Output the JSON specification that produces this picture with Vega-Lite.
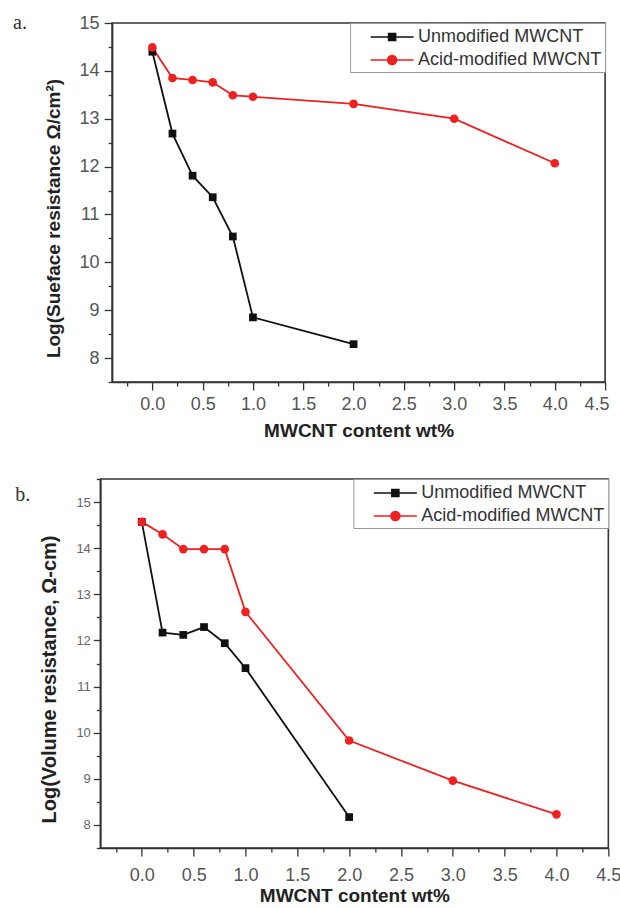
{
  "$schema": "https://vega.github.io/schema/vega-lite/v6.json",
  "background": "white",
  "padding": {"top": 12, "left": 12, "right": 1, "bottom": 0},
  "spacing": 36,
  "center": true,
  "config": {
    "view": {"stroke": "#333", "strokeWidth": 1.6},
    "font": "Liberation Sans",
    "axis": {
      "domainColor": "#333", "domainWidth": 1.6, "tickColor": "#333", "tickWidth": 1.3, "labelFlush": false,
      "grid": false, "labelColor": "#555", "labelFont": "Liberation Sans",
      "titleFont": "Liberation Sans", "titleFontWeight": "bold", "titleColor": "#222"
    },
    "legend": {
      "title": null, "orient": "top-right", "offset": 0, "strokeColor": "#999", "fillColor": "white", "padding": 3, "rowPadding": 3,
      "labelFont": "Liberation Sans", "labelFontSize": 18, "labelColor": "#333", "labelLimit": 400,
      "symbolSize": 400, "symbolStrokeWidth": 1.6, "symbolOffset": 28, "labelOffset": 15
    }
  },
  "datasets": {
    "surface": [
      {"x": 0.0, "y": 14.40, "s": "Unmodified MWCNT"},
      {"x": 0.2, "y": 12.69, "s": "Unmodified MWCNT"},
      {"x": 0.4, "y": 11.81, "s": "Unmodified MWCNT"},
      {"x": 0.6, "y": 11.36, "s": "Unmodified MWCNT"},
      {"x": 0.8, "y": 10.54, "s": "Unmodified MWCNT"},
      {"x": 1.0, "y": 8.85, "s": "Unmodified MWCNT"},
      {"x": 2.0, "y": 8.29, "s": "Unmodified MWCNT"},
      {"x": 0.0, "y": 14.49, "s": "Acid-modified MWCNT"},
      {"x": 0.2, "y": 13.85, "s": "Acid-modified MWCNT"},
      {"x": 0.4, "y": 13.81, "s": "Acid-modified MWCNT"},
      {"x": 0.6, "y": 13.76, "s": "Acid-modified MWCNT"},
      {"x": 0.8, "y": 13.49, "s": "Acid-modified MWCNT"},
      {"x": 1.0, "y": 13.46, "s": "Acid-modified MWCNT"},
      {"x": 2.0, "y": 13.31, "s": "Acid-modified MWCNT"},
      {"x": 3.0, "y": 13.00, "s": "Acid-modified MWCNT"},
      {"x": 4.0, "y": 12.07, "s": "Acid-modified MWCNT"}
    ],
    "volume": [
      {"x": 0.0, "y": 14.57, "s": "Unmodified MWCNT"},
      {"x": 0.2, "y": 12.17, "s": "Unmodified MWCNT"},
      {"x": 0.4, "y": 12.12, "s": "Unmodified MWCNT"},
      {"x": 0.6, "y": 12.29, "s": "Unmodified MWCNT"},
      {"x": 0.8, "y": 11.94, "s": "Unmodified MWCNT"},
      {"x": 1.0, "y": 11.40, "s": "Unmodified MWCNT"},
      {"x": 2.0, "y": 8.17, "s": "Unmodified MWCNT"},
      {"x": 0.0, "y": 14.57, "s": "Acid-modified MWCNT"},
      {"x": 0.2, "y": 14.30, "s": "Acid-modified MWCNT"},
      {"x": 0.4, "y": 13.98, "s": "Acid-modified MWCNT"},
      {"x": 0.6, "y": 13.98, "s": "Acid-modified MWCNT"},
      {"x": 0.8, "y": 13.98, "s": "Acid-modified MWCNT"},
      {"x": 1.0, "y": 12.62, "s": "Acid-modified MWCNT"},
      {"x": 2.0, "y": 9.83, "s": "Acid-modified MWCNT"},
      {"x": 3.0, "y": 8.96, "s": "Acid-modified MWCNT"},
      {"x": 4.0, "y": 8.23, "s": "Acid-modified MWCNT"}
    ]
  },
  "resolve": {"scale": {"color": "independent"}, "legend": {"color": "independent"}},
  "vconcat": [
    {
      "width": 493, "height": 359,
      "title": {"text": "\u00a0\u00a0\u00a0a.", "anchor": "start", "frame": "group", "dx": -99, "dy": 19, "offset": 0, "font": "Liberation Serif", "fontSize": 20, "fontWeight": "normal", "color": "#333"},
      "data": {"name": "surface"},
      "encoding": {
        "x": {"field": "x", "type": "quantitative", "scale": {"domain": [-0.4, 4.5], "nice": false, "zero": false},
          "axis": {"title": "MWCNT content wt%", "values": [-0.25,0,0.25,0.5,0.75,1,1.25,1.5,1.75,2,2.25,2.5,2.75,3,3.25,3.5,3.75,4,4.25,4.5],
            "labelExpr": "datum.value % 0.5 === 0 ? format(datum.value, '.1f') : ''",
            "labelFlush": true, "labelFlushOffset": 4,
            "tickSize": {"condition": {"test": "datum.value % 0.5 !== 0", "value": 4}, "value": 8},
            "labelFontSize": 18, "labelPadding": 5, "titleFontSize": 19, "titlePadding": 8}},
        "y": {"field": "y", "type": "quantitative", "scale": {"domain": [7.5, 15], "nice": false, "zero": false},
          "axis": {"title": "Log(Sueface resistance Ω/cm²)", "values": [7.5,8,8.5,9,9.5,10,10.5,11,11.5,12,12.5,13,13.5,14,14.5,15],
            "labelExpr": "datum.value % 1 === 0 ? format(datum.value, 'd') : ''",
            "tickSize": {"condition": {"test": "datum.value % 1 !== 0", "value": 4}, "value": 8},
            "labelFontSize": 18, "labelPadding": 5, "titleFontSize": 19, "titlePadding": 16, "titleY": 195}},
        "color": {"field": "s", "type": "nominal",
          "scale": {"domain": ["Unmodified MWCNT", "Acid-modified MWCNT"], "range": ["#111111", "#ee2020"]},
          "legend": {
            "encode": {
              "symbols": {"update": {
              "shape": {"signal": "datum.value === 'Unmodified MWCNT' ? 'M-2.15,0H-0.35M0.35,0H2.15M-0.35,-0.35H0.35V0.35H-0.35Z' : 'M-2.15,0H-0.45M0.45,0H2.15M0.45,0A0.45,0.45 0 1 1 -0.45,0A0.45,0.45 0 1 1 0.45,0Z'"},
              "fill": {"signal": "datum.value === 'Unmodified MWCNT' ? '#111111' : '#ee2020'"},
              "stroke": {"signal": "datum.value === 'Unmodified MWCNT' ? '#111111' : '#ee2020'"},
              "strokeWidth": {"value": 1.6}
            }}}}
        }
      },
      "layer": [
        {"mark": {"type": "line", "strokeWidth": 1.8}},
        {"transform": [{"filter": "datum.s === 'Unmodified MWCNT'"}],
          "mark": {"type": "point", "shape": "square", "filled": true, "opacity": 1, "size": 60}},
        {"transform": [{"filter": "datum.s === 'Acid-modified MWCNT'"}],
          "mark": {"type": "point", "shape": "circle", "filled": true, "opacity": 1, "size": 75}}
      ]
    },
    {
      "width": 508, "height": 369,
      "title": {"text": "b.", "anchor": "start", "frame": "group", "dx": -85, "dy": 27, "offset": 0, "font": "Liberation Serif", "fontSize": 20, "fontWeight": "normal", "color": "#333"},
      "data": {"name": "volume"},
      "encoding": {
        "x": {"field": "x", "type": "quantitative", "scale": {"domain": [-0.4, 4.5], "nice": false, "zero": false},
          "axis": {"title": "MWCNT content wt%", "values": [-0.25,0,0.25,0.5,0.75,1,1.25,1.5,1.75,2,2.25,2.5,2.75,3,3.25,3.5,3.75,4,4.25,4.5],
            "labelExpr": "datum.value % 0.5 === 0 ? format(datum.value, '.1f') : ''",
            "tickSize": {"condition": {"test": "datum.value % 0.5 !== 0", "value": 4}, "value": 8},
            "labelFontSize": 18, "labelPadding": 10, "titleFontSize": 19, "titlePadding": 2}},
        "y": {"field": "y", "type": "quantitative", "scale": {"domain": [7.5, 15.5], "nice": false, "zero": false},
          "axis": {"title": "Log(Volume resistance, Ω-cm)", "values": [7.5,8,8.5,9,9.5,10,10.5,11,11.5,12,12.5,13,13.5,14,14.5,15,15.5],
            "labelExpr": "datum.value % 1 === 0 ? format(datum.value, 'd') : ''",
            "tickSize": {"condition": {"test": "datum.value % 1 !== 0", "value": 4}, "value": 7},
            "labelFontSize": 13, "labelColor": "#666", "labelPadding": 3, "titleFontSize": 20, "titlePadding": 16, "titleY": 200}},
        "color": {"field": "s", "type": "nominal",
          "scale": {"domain": ["Unmodified MWCNT", "Acid-modified MWCNT"], "range": ["#111111", "#ee2020"]},
          "legend": {
            "encode": {
              "symbols": {"update": {
              "shape": {"signal": "datum.value === 'Unmodified MWCNT' ? 'M-2.15,0H-0.35M0.35,0H2.15M-0.35,-0.35H0.35V0.35H-0.35Z' : 'M-2.15,0H-0.45M0.45,0H2.15M0.45,0A0.45,0.45 0 1 1 -0.45,0A0.45,0.45 0 1 1 0.45,0Z'"},
              "fill": {"signal": "datum.value === 'Unmodified MWCNT' ? '#111111' : '#ee2020'"},
              "stroke": {"signal": "datum.value === 'Unmodified MWCNT' ? '#111111' : '#ee2020'"},
              "strokeWidth": {"value": 1.6}
            }}}}
        }
      },
      "layer": [
        {"mark": {"type": "line", "strokeWidth": 1.8}},
        {"transform": [{"filter": "datum.s === 'Unmodified MWCNT'"}],
          "mark": {"type": "point", "shape": "square", "filled": true, "opacity": 1, "size": 60}},
        {"transform": [{"filter": "datum.s === 'Acid-modified MWCNT'"}],
          "mark": {"type": "point", "shape": "circle", "filled": true, "opacity": 1, "size": 75}}
      ]
    }
  ]
}
